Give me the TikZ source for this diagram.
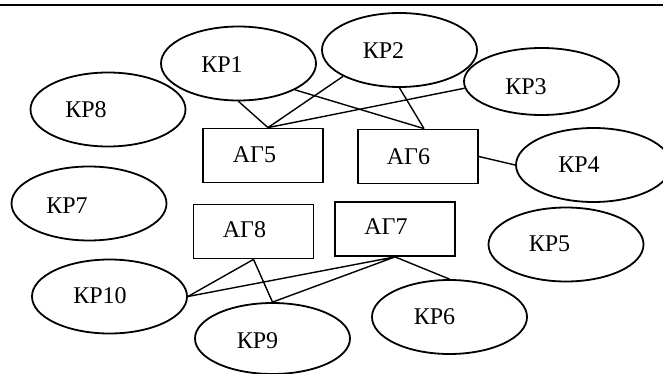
\documentclass[tikz,border=0pt]{standalone}
\usepackage{fontspec}
\setmainfont{Liberation Serif}
\usetikzlibrary{positioning,calc,shapes.geometric}
\tikzset{kp/.style={draw,ellipse,line width=0.9pt,minimum width=77.5pt,minimum height=37pt,inner sep=0pt}  }
\tikzset{ag/.style={draw,rectangle,line width=0.9pt,minimum width=60pt,minimum height=27pt,inner sep=0pt}  }
\tikzset{link/.style={line width=0.7pt}  }

\begin{document}
\begin{tikzpicture}[x=0.5pt,y=-0.5pt,every node/.style={font=\fontsize{12}{14}\selectfont}]
\clip (0,0) rectangle (663,374);
\draw[line width=1.25pt] (0,5) -- (663,5);

    % control points
    \node[kp,label={[xshift=-8.25pt,yshift=-0.5pt]center:КР1}] (kp1) at (238.5,63.5) {};
    \node[kp,label={[xshift=-8pt,yshift=-0.5pt]center:КР2}] (kp2) at (399.5,50) {};
    \node[kp,minimum height=33.5pt,label={[xshift=-7.75pt,yshift=-2.5pt]center:КР3}] (kp3) at (541.5,81.5) {};
    \node[kp,label={[xshift=-7.25pt]center:КР4}] (kp4) at (593.5,165) {};
    \node[kp,label={[xshift=-8.25pt,yshift=0.5pt]center:КР5}] (kp5) at (566,244.5) {};
    \node[kp,label={[xshift=-7.5pt]center:КР6}] (kp6) at (449.5,317) {};
    \node[kp,label={[xshift=-11pt,yshift=-1pt]center:КР7}] (kp7) at (89,203.5) {};
    \node[kp,label={[xshift=-11pt,yshift=-0.25pt]center:КР8}] (kp8) at (108,109.5) {};
    \node[kp,minimum height=35.5pt,label={[xshift=-7.5pt,yshift=-1pt]center:КР9}] (kp9) at (272.5,338.5) {};
    \node[kp,label={[xshift=-4.75pt,yshift=0.5pt]center:КР10}] (kp10) at (109.5,296.5) {};

    % aggregators
    \node[ag,label={[xshift=-4.25pt,yshift=0.5pt]center:АГ5}] (ag5) at (263,155.5) {};
    \node[ag,label={[xshift=-4.75pt]center:АГ6}] (ag6) at (418,156.5) {};
    \node[ag,label={[xshift=-4.5pt,yshift=1pt]center:АГ7}] (ag7) at (395,229) {};
    \node[ag,label={[xshift=-4.5pt,yshift=0.75pt]center:АГ8}] (ag8) at (253.5,231.5) {};

    \coordinate (ag5t) at ($(ag5.north)+(5,0)$);
    \coordinate (ag6t) at ($(ag6.north)+(6,0)$);

    \draw[link] (kp1.south) -- (ag5t)
                (kp1.-25) -- (ag6t);
    \draw[link] (kp2.205) -- (ag5t)
                (kp2.south) -- (ag6t);
    \draw[link] (kp3.185) -- (ag5t);
    \draw[link] (ag6.east) -- (kp4.west);

    \draw[link] (ag8.south) -- (kp10.east)
                (ag8.south) -- (kp9.north);
    \draw[link] (ag7.south) -- (kp10.east)
                (ag7.south) -- (kp9.north)
                (ag7.south) -- (kp6.north);
\end{tikzpicture}
\end{document}
